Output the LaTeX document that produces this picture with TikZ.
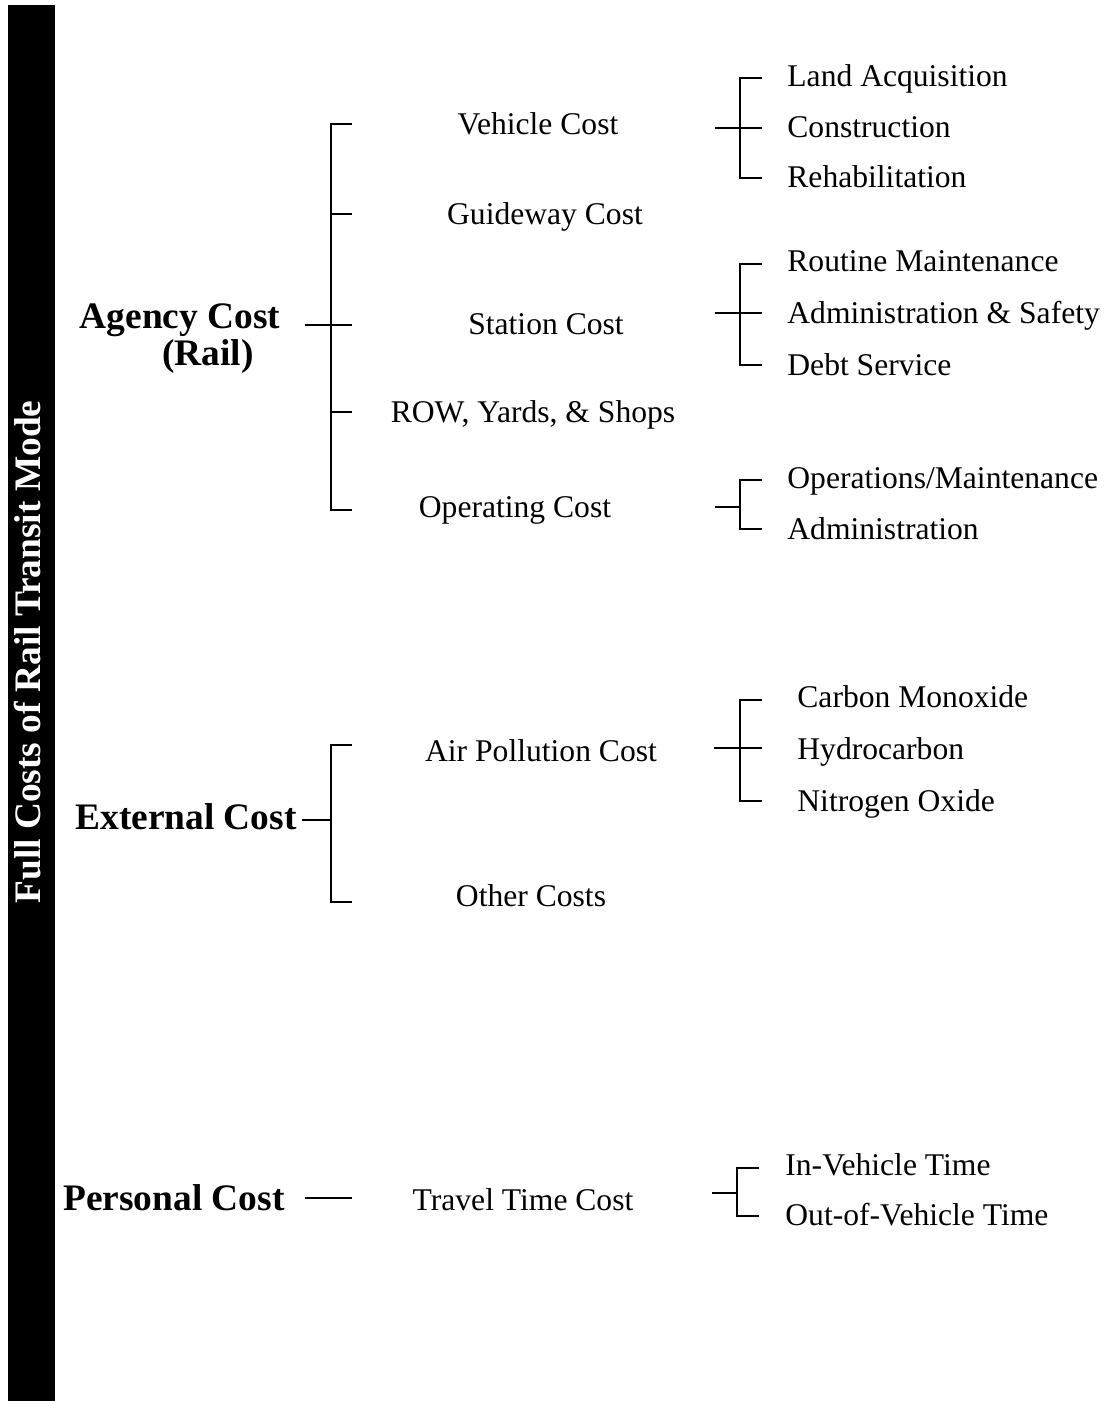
\documentclass[tikz,border=0pt]{standalone}
\usepackage{fontspec}
\setmainfont{Liberation Serif}
\tikzset{
  costhead/.style={inner sep=0pt, font=\fontsize{18.7}{22}\selectfont\bfseries, text height=2.6ex, text depth=.25ex},
  costitem/.style={inner sep=0pt, font=\fontsize{15.8}{19}\selectfont, text height=2.45ex, text depth=.25ex},
  costsub/.style={costitem, anchor=west},
  brk/.style={line width=1.45pt},
}
\begin{document}
\begin{tikzpicture}[x=0.5pt,y=-0.5pt]
\useasboundingbox (0,0) rectangle (1116,1401);
% side bar
\fill (8,5) rectangle (55,1401);
\node[costhead, white, rotate=90] (title) at (30,652) {Full Costs of Rail Transit Mode};

% agency cost
\node[costhead] (agency) at (180,318) {Agency Cost};
\node[costhead] (rail) at (208,355) {(Rail)};
\node[costitem] (veh) at (538,124) {Vehicle Cost};
\node[costitem] (guide) at (545,214) {Guideway Cost};
\node[costitem] (station) at (546,324) {Station Cost};
\node[costitem] (row) at (533,412) {ROW, Yards, \& Shops};
\node[costitem] (oper) at (515,507) {Operating Cost};
\coordinate (ag-root) at (305,325);
\coordinate (ag-top) at (352,124);
\coordinate (ag-bot) at (352,510);
\draw[brk] (ag-top) -- ++(-21,0) |- (ag-bot);
\draw[brk] (ag-root) -- ++(47,0);
\foreach \n in {guide,row}
  \draw[brk] (ag-top |- \n) -- ++(-21,0);

\node[costsub] (land) at (787,76) {Land Acquisition};
\node[costsub] (constr) at (787,127) {Construction};
\node[costsub] (rehab) at (787,177) {Rehabilitation};
\coordinate (vh-root) at (715,128);
\draw[brk] (vh-root) -- ++(47,0);
\draw[brk] (762,78) -- ++(-22,0) |- (762,178);

\node[costsub] (routine) at (787,261) {Routine Maintenance};
\node[costsub] (admsafe) at (787,313) {Administration \& Safety};
\node[costsub] (debt) at (787,365) {Debt Service};
\coordinate (st-root) at (715,313);
\draw[brk] (st-root) -- ++(47,0);
\draw[brk] (762,264) -- ++(-22,0) |- (762,365);

\node[costsub] (opmaint) at (787,478) {Operations/Maintenance};
\node[costsub] (admin) at (787,529) {Administration};
\coordinate (op-root) at (715,507);
\draw[brk] (op-root) -- ++(25,0);
\draw[brk] (762,480) -- ++(-22,0) |- (762,529);

% external cost
\node[costhead] (external) at (186,819) {External Cost};
\node[costitem] (air) at (541,751) {Air Pollution Cost};
\node[costitem] (other) at (531,896) {Other Costs};
\coordinate (ex-root) at (302,820);
\coordinate (ex-top) at (352,745);
\coordinate (ex-bot) at (352,902);
\draw[brk] (ex-root) -- ++(29,0);
\draw[brk] (ex-top) -- ++(-21,0) |- (ex-bot);

\node[costsub] (carbon) at (797,697) {Carbon Monoxide};
\node[costsub] (hydro) at (797,749) {Hydrocarbon};
\node[costsub] (nitro) at (797,801) {Nitrogen Oxide};
\coordinate (ap-root) at (714,748);
\draw[brk] (ap-root) -- ++(48,0);
\draw[brk] (762,700) -- ++(-22,0) |- (762,801);

% personal cost
\node[costhead] (personal) at (174,1200) {Personal Cost};
\node[costitem] (travel) at (523,1200) {Travel Time Cost};
\coordinate (ps-root) at (305,1198);
\draw[brk] (ps-root) -- ++(47,0);

\node[costsub] (invh) at (785,1165) {In-Vehicle Time};
\node[costsub] (outvh) at (785,1215) {Out-of-Vehicle Time};
\coordinate (tt-root) at (712,1193);
\draw[brk] (tt-root) -- ++(25,0);
\draw[brk] (759,1168) -- ++(-22,0) |- (759,1216);
\end{tikzpicture}
\end{document}
